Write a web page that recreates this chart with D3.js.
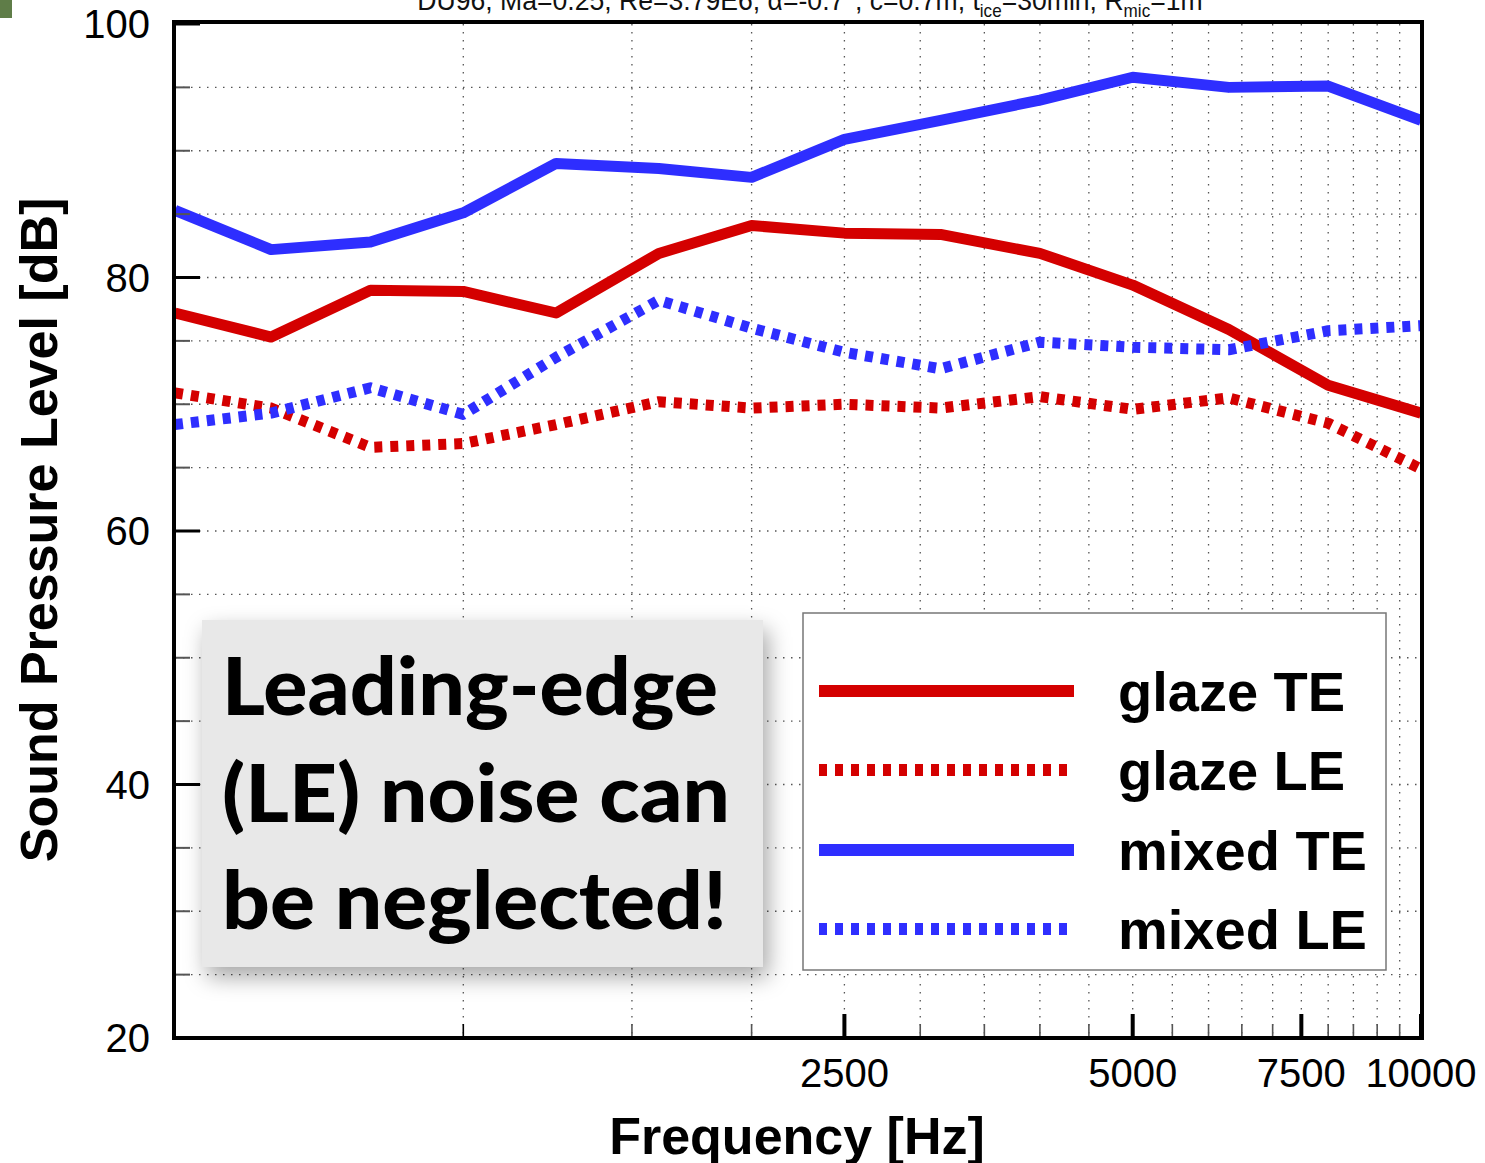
<!DOCTYPE html>
<html>
<head>
<meta charset="utf-8">
<script src="https://cdn.jsdelivr.net/npm/d3@7"></script>
<style>
  html, body { margin: 0; padding: 0; background: #fff; }
  svg { display: block; }
</style>
</head>
<body>
<svg id="chart" width="1485" height="1163"></svg>
<script>
// third-octave band centre frequencies [Hz]
const freqs = [500, 630, 800, 1000, 1250, 1600, 2000, 2500, 3150, 4000, 5000, 6300, 8000, 10000];

// SPL values [dB]
const glazeTE = [77.2, 75.3, 79.0, 78.9, 77.2, 81.9, 84.1, 83.5, 83.4, 81.9, 79.4, 75.9, 71.5, 69.3];
const glazeLE = [70.9, 69.7, 66.6, 66.9, 68.4, 70.2, 69.7, 70.0, 69.7, 70.6, 69.6, 70.5, 68.5, 64.9];
const mixedTE = [85.3, 82.2, 82.8, 85.1, 89.0, 88.6, 87.9, 90.9, 92.4, 94.0, 95.8, 95.0, 95.1, 92.4];
const mixedLE = [68.4, 69.3, 71.3, 69.2, 73.7, 78.2, 76.0, 74.1, 72.8, 74.9, 74.5, 74.3, 75.8, 76.2];

const seriesNames = ["glaze TE", "glaze LE", "mixed TE", "mixed LE"];
const seriesValues = [glazeTE, glazeLE, mixedTE, mixedLE];
const seriesColors = ["#d40000", "#d40000", "#2e2eff", "#2e2eff"];
const seriesDashed = [false, true, false, true];

const xLabelTicks = [2500, 5000, 7500, 10000];
const yLabelTicks = [20, 40, 60, 80, 100];

const svg = d3.select("#chart");
const pLeft = 175, pRight = 1421, pTop = 24, pBottom = 1038;

const x = d3.scaleLog().domain([500, 10000]).range([pLeft, pRight]);
const y = d3.scaleLinear().domain([20, 100]).range([pBottom, pTop]);

// drop shadow for the annotation box
const defs = svg.append("defs");
const f = defs.append("filter").attr("id", "shadow")
    .attr("x", "-20%").attr("y", "-20%").attr("width", "140%").attr("height", "150%");
f.append("feDropShadow").attr("dx", 5).attr("dy", 10).attr("stdDeviation", 11)
    .attr("flood-color", "#000").attr("flood-opacity", 0.35);

// small green corner artifact
svg.append("rect").attr("x", 0).attr("y", 0).attr("width", 12).attr("height", 18).attr("fill", "#5f7d48");

// title (cut off at the top edge, as in the original)
const title = svg.append("text")
    .attr("x", 810).attr("y", 10)
    .attr("text-anchor", "middle")
    .attr("font-family", "'Liberation Sans', Arial, sans-serif")
    .attr("font-size", 28).attr("fill", "#111")
    .attr("transform", "translate(810,0) scale(0.95,1) translate(-810,0)");
title.append("tspan").text("DU96, Ma=0.25, Re=3.79E6, α=-0.7°, c=0.7m, t");
title.append("tspan").attr("font-size", 18).attr("dy", 7).text("ice");
title.append("tspan").attr("dy", -7).text("=30min, R");
title.append("tspan").attr("font-size", 18).attr("dy", 7).text("mic");
title.append("tspan").attr("dy", -7).text("=1m");

// grid
const minorX = d3.range(1000, 10000, 500);
const gridG = svg.append("g").attr("stroke", "#555").attr("stroke-width", 1.3).attr("stroke-dasharray", "1.5,6.5");
gridG.selectAll("line.vx").data(minorX).join("line")
    .attr("x1", d => x(d)).attr("x2", d => x(d)).attr("y1", pTop).attr("y2", pBottom);
const minorY = d3.range(25, 100, 5);
gridG.selectAll("line.hy").data(minorY).join("line")
    .attr("x1", pLeft).attr("x2", pRight).attr("y1", d => y(d)).attr("y2", d => y(d));

// series
const line = d3.line().x(d => x(d[0])).y(d => y(d[1]));
seriesValues.forEach((vals, i) => {
  svg.append("path")
      .datum(freqs.map((fq, k) => [fq, vals[k]]))
      .attr("d", line)
      .attr("fill", "none")
      .attr("stroke", seriesColors[i])
      .attr("stroke-width", 11)
      .attr("stroke-linejoin", "round")
      .attr("stroke-dasharray", seriesDashed[i] ? "8,8" : null);
});

// annotation box
svg.append("rect").attr("x", 202).attr("y", 620).attr("width", 561).attr("height", 347)
    .attr("fill", "#e8e8e8").attr("filter", "url(#shadow)");
const noteLines = ["Leading-edge", "(LE) noise can", "be neglected!"];
const noteWidths = [496, 508, 505];
svg.append("g").selectAll("text").data(noteLines).join("text")
    .attr("x", 222).attr("y", (d, i) => 715 + i * 107)
    .attr("font-family", "Lato, 'Open Sans', sans-serif")
    .attr("font-weight", 900).attr("font-size", 80).attr("fill", "#000")
    .attr("textLength", (d, i) => noteWidths[i]).attr("lengthAdjust", "spacingAndGlyphs")
    .text(d => d);

// legend
const lg = svg.append("g");
lg.append("rect").attr("x", 803).attr("y", 613).attr("width", 583).attr("height", 357)
    .attr("fill", "#fff").attr("stroke", "#777").attr("stroke-width", 1.5);
const legY = [691, 770, 850, 929];
seriesNames.forEach((name, i) => {
  lg.append("line").attr("x1", 819).attr("x2", 1074).attr("y1", legY[i]).attr("y2", legY[i])
      .attr("stroke", seriesColors[i]).attr("stroke-width", 12)
      .attr("stroke-dasharray", seriesDashed[i] ? "8,8" : null);
  lg.append("text").attr("x", 1118).attr("y", legY[i] + 20)
      .attr("font-family", "'Liberation Sans', Arial, sans-serif")
      .attr("font-weight", "bold").attr("font-size", 56).attr("fill", "#000")
      .text(name);
});

// ticks
const tickG = svg.append("g");
tickG.selectAll("line.ymin").data(minorY.filter(d => d % 20 !== 0)).join("line")
    .attr("x1", pLeft).attr("x2", pLeft + 15).attr("y1", d => y(d)).attr("y2", d => y(d))
    .attr("stroke", "#555").attr("stroke-width", 2);
tickG.selectAll("line.ymaj").data(yLabelTicks).join("line")
    .attr("x1", pLeft).attr("x2", pLeft + 25).attr("y1", d => y(d)).attr("y2", d => y(d))
    .attr("stroke", "#000").attr("stroke-width", 3);
tickG.selectAll("line.xmin").data(minorX.filter(d => d % 2500 !== 0)).join("line")
    .attr("x1", d => x(d)).attr("x2", d => x(d)).attr("y1", pBottom).attr("y2", pBottom - 14)
    .attr("stroke", d => d === 1000 ? "#000" : "#555").attr("stroke-width", 1.6);
tickG.selectAll("line.xmaj").data(xLabelTicks).join("line")
    .attr("x1", d => x(d)).attr("x2", d => x(d)).attr("y1", pBottom).attr("y2", pBottom - 24)
    .attr("stroke", "#000").attr("stroke-width", 4);

// frame
svg.append("rect").attr("x", pLeft - 1).attr("y", pTop - 2).attr("width", pRight - pLeft + 2).attr("height", pBottom - pTop + 2)
    .attr("fill", "none").attr("stroke", "#000").attr("stroke-width", 4);

// tick labels
svg.append("g").selectAll("text").data(yLabelTicks).join("text")
    .attr("x", 150).attr("y", d => y(d) + 14)
    .attr("text-anchor", "end")
    .attr("font-family", "'Liberation Sans', Arial, sans-serif")
    .attr("font-size", 40).attr("fill", "#000")
    .text(d => d);
svg.append("g").selectAll("text").data(xLabelTicks).join("text")
    .attr("x", d => x(d)).attr("y", 1087)
    .attr("text-anchor", "middle")
    .attr("font-family", "'Liberation Sans', Arial, sans-serif")
    .attr("font-size", 40).attr("fill", "#000")
    .text(d => d);

// axis titles
svg.append("text").attr("x", 797).attr("y", 1154)
    .attr("text-anchor", "middle")
    .attr("font-family", "'Liberation Sans', Arial, sans-serif")
    .attr("font-weight", "bold").attr("font-size", 52)
    .text("Frequency [Hz]");
svg.append("text")
    .attr("transform", "translate(57,530) rotate(-90)")
    .attr("text-anchor", "middle")
    .attr("font-family", "'Liberation Sans', Arial, sans-serif")
    .attr("font-weight", "bold").attr("font-size", 52)
    .text("Sound Pressure Level [dB]");
</script>
</body>
</html>
